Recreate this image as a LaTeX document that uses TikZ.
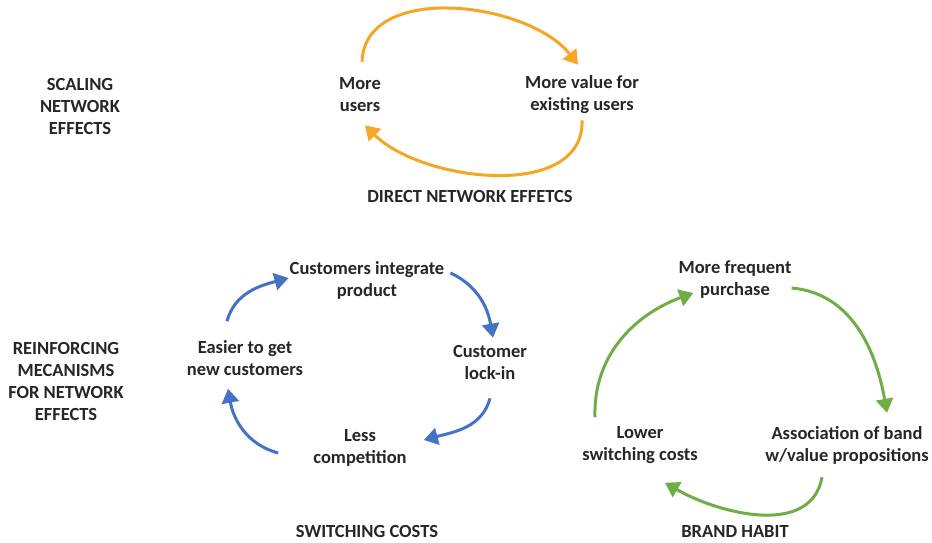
\documentclass[tikz,border=0pt]{standalone}
\usepackage{fontspec}
\setmainfont{Carlito}
\usetikzlibrary{arrows.meta}

\definecolor{txtgray}{HTML}{262626}
\definecolor{netorange}{HTML}{F5A623}
\definecolor{netblue}{HTML}{4472C4}
\definecolor{netgreen}{HTML}{70AD47}

\begin{document}
\begin{tikzpicture}[x=1pt,y=1pt,
    lbl/.style={align=center,inner sep=0pt,text=txtgray,
      font=\bfseries\fontsize{18.5}{22}\selectfont},
    loop/.style={line width=3pt,-{Triangle[length=14pt,width=17pt]}}]
            \useasboundingbox[fill=white] (0,0) rectangle (932,542);

            % section titles
            \node[lbl] (scaling) at (80,436) {SCALING\\NETWORK\\EFFECTS};
            \node[lbl] (reinf) at (66,161) {REINFORCING\\MECANISMS\\FOR NETWORK\\EFFECTS};
            \node[lbl] (direct) at (470,346) {DIRECT NETWORK EFFETCS};
            \node[lbl] (switching) at (367,11) {SWITCHING COSTS};
            \node[lbl] (brand) at (735,11) {BRAND HABIT};

            % direct network effects
            \node[lbl] (users) at (360,447) {More\\users};
            \node[lbl] (value) at (582,447) {More value for\\existing users};
            \draw[loop,netorange] ([shift={(2,16)}]users.north)
                to[out=88,in=128,looseness=0.95] ([shift={(-4,11)}]value.north);
            \draw[loop,netorange] ([shift={(0,-6)}]value.south)
                to[out=-88,in=-45,looseness=0.95] ([shift={(5,-13)}]users.south);

            % switching costs
            \node[lbl] (integrate) at (367,262) {Customers integrate\\product};
            \node[lbl] (lockin) at (490,180) {Customer\\lock-in};
            \node[lbl] (less) at (360,94) {Less\\competition};
            \node[lbl] (easier) at (245,184) {Easier to get\\new customers};
            \draw[loop,netblue] ([shift={(-18,19)}]easier.north)
                to[out=75,in=195] ([shift={(-1,2)}]integrate.west);
            \draw[loop,netblue] ([shift={(6,7)}]integrate.east)
                to[out=-25,in=100] ([shift={(3,7)}]lockin.north);
            \draw[loop,netblue] ([shift={(0,-19)}]lockin.south)
                to[out=-105,in=15] ([shift={(17,8)}]less.east);
            \draw[loop,netblue] ([shift={(-35,-5)}]less.west)
                to[out=165,in=-80] ([shift={(-17,-13)}]easier.south);

            % brand habit
            \node[lbl] (frequent) at (735,262) {More frequent\\purchase};
            \node[lbl] (assoc) at (847,97) {Association of band\\w/value propositions};
            \node[lbl] (lower) at (640,97) {Lower\\switching costs};
            \draw[loop,netgreen] ([shift={(-45,9)}]lower.north)
                to[out=92,in=200] ([shift={(15,-13)}]frequent.west);
            \draw[loop,netgreen] ([shift={(0,-8)}]frequent.east)
                to[out=-5,in=100] ([shift={(40,13)}]assoc.north);
            \draw[loop,netgreen] ([shift={(-25,-13)}]assoc.south)
                to[out=-100,in=-30] ([shift={(25,-19)}]lower.south);
\end{tikzpicture}
\end{document}
